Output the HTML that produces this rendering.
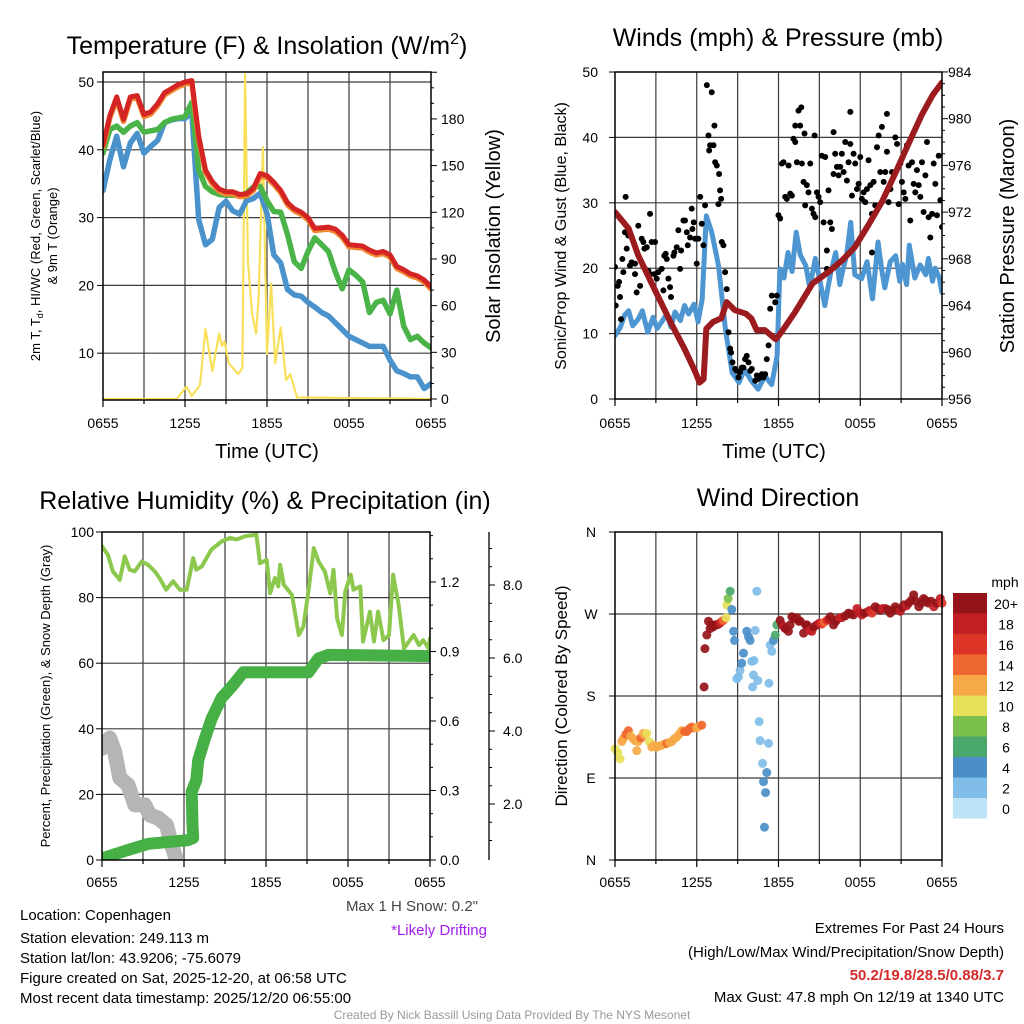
<!DOCTYPE html>
<html><head><meta charset="utf-8">
<style>
html,body{margin:0;padding:0;background:#fff;}
svg{display:block;font-family:"Liberation Sans",Arial,sans-serif;}
</style></head>
<body>
<svg id="fig" width="1024" height="1024" viewBox="0 0 1024 1024" xmlns="http://www.w3.org/2000/svg">
<defs>
<clipPath id="c1"><rect x="103" y="72" width="328" height="328"/></clipPath>
<clipPath id="c2"><rect x="615" y="72" width="327" height="327"/></clipPath>
<clipPath id="c3"><rect x="102" y="532" width="328" height="328"/></clipPath>
<clipPath id="c4"><rect x="608" y="525" width="340" height="342"/></clipPath>
</defs>
<g font-size="25" text-anchor="middle" fill="#000">
<text x="267" y="54">Temperature (F) &amp; Insolation (W/m<tspan font-size="16" dy="-10">2</tspan><tspan dy="10">)</tspan></text>
<text x="778" y="46">Winds (mph) &amp; Pressure (mb)</text>
<text x="265" y="509">Relative Humidity (%) &amp; Precipitation (in)</text>
<text x="778" y="506">Wind Direction</text>
</g>
<g font-size="20" text-anchor="middle">
<text x="267" y="458">Time (UTC)</text>
<text x="774" y="458">Time (UTC)</text>
<text transform="translate(500,236) rotate(-90)">Solar Insolation (Yellow)</text>
<text transform="translate(1014,236) rotate(-90)">Station Pressure (Maroon)</text>
</g>
<g font-size="13" text-anchor="middle">
<text transform="translate(40,236) rotate(-90)">2m T, T<tspan font-size="9" dy="3">d</tspan><tspan dy="-3">, HI/WC (Red, Green, Scarlet/Blue)</tspan></text>
<text transform="translate(57,236) rotate(-90)">&amp; 9m T (Orange)</text>
<text transform="translate(50,696) rotate(-90)">Percent, Precipitation (Green), &amp; Snow Depth (Gray)</text>
</g>
<text transform="translate(566,236) rotate(-90)" font-size="16" text-anchor="middle">Sonic/Prop Wind &amp; Gust (Blue, Black)</text>
<text transform="translate(567,696) rotate(-90)" font-size="17" text-anchor="middle">Direction (Colored By Speed)</text>
<g font-size="15" fill="#000">
<text x="20" y="920">Location: Copenhagen</text>
<text x="20" y="943">Station elevation: 249.113 m</text>
<text x="20" y="963">Station lat/lon: 43.9206; -75.6079</text>
<text x="20" y="983">Figure created on Sat, 2025-12-20, at 06:58 UTC</text>
<text x="20" y="1003">Most recent data timestamp: 2025/12/20 06:55:00</text>
<text x="478" y="911" text-anchor="end" fill="#444">Max 1 H Snow: 0.2"</text>
<text x="487" y="935" text-anchor="end" fill="#a020f0">*Likely Drifting</text>
<text x="1004" y="933" text-anchor="end">Extremes For Past 24 Hours</text>
<text x="1004" y="957" text-anchor="end">(High/Low/Max Wind/Precipitation/Snow Depth)</text>
<text x="1004" y="980" text-anchor="end" fill="#d42a2a" font-weight="bold">50.2/19.8/28.5/0.88/3.7</text>
<text x="1004" y="1002" text-anchor="end">Max Gust: 47.8 mph On 12/19 at 1340 UTC</text>
</g>
<text x="512" y="1019" font-size="12" fill="#999" text-anchor="middle">Created By Nick Bassill Using Data Provided By The NYS Mesonet</text>
<text x="1005" y="587" font-size="14" text-anchor="middle">mph</text>
</svg>
<script>
// ---- data ----
const halfHours = [0,0.5,1,1.5,2,2.5,3,3.5,4,4.5,5,5.5,6,6.5,7,7.5,8,8.5,9,9.5,10,10.5,11,11.5,12,12.5,13,13.5,14,14.5,15,15.5,16,16.5,17,17.5,18,18.5,19,19.5,20,20.5,21,21.5,22,22.5,23,23.5,24];
const tempRed = [40.7,45,47.8,44.5,47.8,48,45.2,45.6,46.8,48.4,49,49.6,50,50.2,42,37,35.3,34.2,33.8,33.8,33.4,33.5,34.3,36.5,36.2,35.2,34,32.2,31.3,30.8,30,28.4,28.5,28.6,28.3,27.4,26,25.9,25.8,25.2,24.8,25,24.5,22.8,22.3,21.7,21.4,20.8,19.8];
const tempGreen = [39.5,43,43.5,42.6,43.5,44,42.6,42.8,43,44,44.5,44.7,44.9,47,37,34.6,33.8,33.4,33.3,33.3,33.2,33.6,34.5,34.6,32.5,30.9,30.8,27.5,23.5,22.5,25,27,26,25,22,19.5,22.3,21.5,20.5,16,17.5,17.8,15.8,19.3,14,12,12.5,11.5,10.8];
const tempBlue = [34,38.5,42,37.5,41,42.4,39.5,40.5,41.4,44,44.4,44.6,44.6,45.6,29.7,26,26.8,31.5,32.4,31,30.5,32.5,32.8,33.6,30.6,24.5,23.3,19.4,18.6,18.4,17.5,16.8,16,15.5,14.5,13.5,12.5,12,11.5,11,11,11,9,7.4,7,6.5,6.5,4.8,5.5];
const solarTimes = [0,5.4,6.1,6.5,7.1,7.5,8,8.5,8.7,8.9,9.2,9.9,10.2,10.4,10.6,10.9,11.2,11.4,11.7,12,12.3,12.6,13,13.4,13.7,14.2,24];
const solarVals = [0,0,8,2,9,45,18,42,34,37,23,16,20,209,89,55,42,68,162,29,74,23,46,12,16,1,0];
const tempTicks = [10,20,30,40,50];
const solarTicks = [0,30,60,90,120,150,180];
const timeLabels = ["0655","1255","1855","0055","0655"];

const windTimes = [0,0.4,0.7,1,1.3,1.7,2,2.4,2.8,3.1,3.4,3.8,4.1,4.4,4.8,5.1,5.4,5.8,6.1,6.4,6.7,7.1,7.6,8.1,8.6,9.1,9.5,10,10.5,11,11.5,11.9,12.1,12.4,12.7,13,13.3,13.6,14,14.3,14.7,15,15.4,15.8,16.2,16.5,16.7,17,17.3,17.6,18.1,18.5,18.9,19.3,19.6,19.8,20.2,20.6,20.9,21.1,21.4,21.6,22,22.4,22.8,23,23.3,23.5,23.8,24];
const windVals = [9.7,11,12.8,13.5,11.2,12.2,13.5,10.2,12.5,10.8,11.7,13,11,13.3,12,14.3,13,14.5,11.8,15.3,28,25.5,20.4,10.7,4,2.5,4.5,2.8,1.5,3.5,2.2,6.6,19.9,18.5,22.4,19.5,25.5,22,20.4,17,21.5,18.5,14.3,19,22.4,17.5,19.5,22,27,19,18.4,21,15.3,24,19.5,17,21,21.9,18,20.6,17.5,23.5,18.5,20.5,19,21.5,18,20,18.5,16.3];
const pressTimes = [0,1,1.7,2.9,4.2,5.1,5.9,6.2,6.5,6.7,7.2,7.8,8.2,8.8,9.6,10,10.4,11,11.8,12.2,13.2,14.5,15.7,16.7,17.6,18.6,19.6,20.6,21.6,22.5,23.3,24];
const pressVals = [972,970.6,968.3,965.4,962.3,960.3,958.3,957.4,957.7,962,962.6,962.9,964.3,963.6,963.3,962.9,961.9,961.9,961.1,961.7,963.4,965.9,966.9,967.9,969,970.9,972.9,975.4,978,980.3,982,983.1];
const gustTimes = [0,0.05,0.2,0.3,0.37,0.44,0.54,0.61,0.78,0.86,0.73,0.98,1.1,1.22,1.47,1.47,1.59,1.71,1.84,1.96,2.08,2.16,2.2,2.33,2.45,2.57,2.57,2.69,2.89,2.94,3.06,3.18,3.43,3.55,3.62,3.72,3.8,3.92,4.04,4.11,4.29,4.36,4.53,4.65,4.78,4.85,5.02,5.14,5.27,5.34,5.51,5.63,5.68,5.78,5.88,6,6.12,6.25,6.37,6.49,6.61,6.74,6.86,6.91,6.98,7.1,7.23,7.3,7.35,7.47,7.59,7.64,7.71,7.79,7.84,7.96,8.08,8.2,8.33,8.45,8.52,8.62,8.82,8.94,9.06,9.18,9.31,9.43,9.55,9.67,9.8,9.92,10.04,10.29,10.41,10.53,10.65,10.78,10.9,11.02,11.14,11.27,11.39,11.51,11.76,11.88,12,12.12,12.25,12.37,12.49,12.61,12.74,12.86,12.98,13.1,13.23,13.23,13.35,13.47,13.59,13.67,13.72,13.84,13.91,13.96,14.08,14.2,14.33,14.45,14.57,14.7,14.65,14.82,14.94,15.06,15.18,15.31,15.43,15.55,15.67,15.8,15.92,16.04,16.04,16.16,16.29,16.41,16.53,16.65,16.78,16.9,17.02,17.14,17.27,17.27,17.39,17.51,17.63,17.76,17.88,18,18.12,18.25,18.37,18.49,18.61,18.74,18.86,18.98,19.1,19.23,19.35,19.47,19.59,19.72,19.84,19.96,19.96,20.08,20.21,20.33,20.57,20.7,20.82,20.94,21.06,21.19,21.31,21.43,21.55,21.67,21.8,21.92,22.04,22.16,22.29,22.41,22.53,22.65,22.78,22.9,23.02,23.14,23.27,23.39,23.51,23.63,23.76,23.88,24,18.86,15.55];
const gustVals = [20.2,14.3,17.3,17.9,15.6,12.2,21.4,19.4,30.9,23,25.5,25,20.4,20.9,20.7,19.1,16.3,26.5,17.3,24.5,24,23,19.9,23.2,19.6,28.3,19.1,24,19.1,24,18.4,19.4,19.9,16.6,21.9,22.2,21.4,18.4,17.1,15.6,21.9,22.4,23.2,25.8,19.9,22.7,27.3,27.3,25.5,23.5,24.7,29.1,26,27,24.5,20.7,24.5,30.9,26.8,23.5,29.6,48,40.3,38,38.8,46.9,38.8,41.8,36.2,35.7,29.8,34.4,31.9,30.6,24,23.5,19.4,16.8,10.2,7.7,7.1,5.6,4.6,4.3,3.3,4.1,4.8,4.8,6.1,6.6,5.6,4.3,4.6,2.8,3.6,3.1,3.3,3.8,3.3,3.8,6.1,8.2,13.8,15.8,14.8,15.8,28.1,27.6,36,36.2,30.9,30.6,35.7,31.4,31.1,39.8,39.3,41.8,36.2,44.1,41.8,44.6,36,33.2,40.6,29.6,32.7,31.6,36,29.1,28.3,27.8,40.3,31.6,30.9,30.1,37.2,27,37,22.7,31.9,27,26,40.8,34.4,37.5,35.5,34.2,35.5,37.5,34.7,39.3,33.4,36.2,43.9,39,31.1,37.5,36,32.1,32.9,37,30.6,31.6,30.1,32.1,36.5,32.7,28.3,33.2,29.6,38.5,40.3,34.7,41.6,33.2,34.7,43.6,37.8,30.1,32.1,34.7,40,39,29.8,36,33.2,31.6,30.6,38.8,35.7,27.3,36.2,32.9,31.6,35,32.7,30.9,36.2,28.6,34.2,39.3,27.8,24.7,28.3,36,32.9,28.1,37.2,30.4,26.3,22.4,19.9];
const windTicks = [0,10,20,30,40,50];
const pressTicks = [956,960,964,968,972,976,980,984];

const rhTimes = [0,0.44,0.8,1.3,1.66,2.03,2.4,2.9,3.37,3.86,4.2,4.7,5.2,5.7,6.2,6.67,6.9,7.3,8,8.75,9.36,9.85,10.46,11.3,11.56,12.05,12.3,12.66,12.9,13.03,13.3,13.9,14.4,14.74,15.1,15.5,15.85,16.3,16.7,16.94,17.2,17.55,17.8,18.2,18.4,18.9,19.1,19.6,19.9,20.2,20.6,21,21.3,21.7,22.1,22.8,23.2,23.5,23.9,24];
const rhVals = [95.6,93,88,85.4,92.6,88.5,88,91,90,88,86,82.4,85,82.4,82.4,92,88.5,89.5,94.6,97.1,98.2,97.7,98.7,99.2,90.5,91.5,81.3,86,83.4,90,83.9,80.8,68.6,71.2,81.9,95.1,91,88,81.3,88.5,73.7,68.6,81.9,87,82.4,83.4,66.6,75.7,66.6,75.7,67,68.6,87,77.8,64.5,68.6,65.5,67,64.5,67.6];
const precipTimes = [0,1.9,3.4,6.3,6.67,6.62,6.56,6.9,7.04,7.53,8.02,8.75,9.49,10.34,15.1,15.84,16.57,24];
const precipVals = [0.007,0.043,0.07,0.086,0.095,0.15,0.295,0.345,0.43,0.525,0.61,0.7,0.748,0.81,0.81,0.87,0.885,0.88];
const snowTimes = [0,0.56,0.93,1.3,1.9,2.4,3.13,3.5,4.1,4.72,5.09,5.45];
const snowVals = [34.1,37.2,33,25,22.9,16.8,16.8,13.7,12.8,10.7,4.6,0];
const pctTicks = [0,20,40,60,80,100];
const precipTicks = ["0.0","0.3","0.6","0.9","1.2"];
const snowTicks = ["2.0","4.0","6.0","8.0"];

const dirTimes = [0,0.2,0.37,0.5,0.6,0.8,0.98,1.15,1.35,1.47,1.6,1.7,1.9,2.08,2.2,2.33,2.5,2.7,2.9,3.06,3.25,3.43,3.6,3.8,4,4.16,4.35,4.53,4.7,4.9,5.1,5.27,5.45,5.63,5.8,6,6.2,6.37,6.54,6.6,6.74,6.86,6.98,7.1,7.2,7.35,7.47,7.6,7.7,7.85,7.96,8.16,8.2,8.3,8.45,8.57,8.7,8.77,8.94,9.06,9.18,9.3,9.43,9.67,9.8,9.92,10.04,10.1,10.16,10.2,10.29,10.41,10.48,10.58,10.65,10.83,10.9,10.97,11.05,11.14,11.27,11.3,11.39,11.51,11.63,11.76,11.88,12.12,12.25,12.4,12.5,12.73,12.85,12.98,13.15,13.35,13.5,13.6,13.84,14,14.08,14.3,14.45,14.6,14.82,15,15.18,15.35,15.55,15.7,15.8,16.04,16.2,16.29,16.5,16.65,16.9,17.14,17.3,17.5,17.76,17.9,18.12,18.3,18.5,18.7,18.86,19.1,19.3,19.47,19.65,19.84,20,20.2,20.4,20.57,20.75,20.94,21.1,21.19,21.4,21.55,21.75,21.92,22.1,22.3,22.5,22.65,22.8,23,23.2,23.4,23.63,23.88,24];
const dirVals = [122,118,111,130,133,138,142,136,133,131,120,130,134,139,137,139,130,124,126,124,125,126,127,128,129,130,133,135,138,142,141,141,144,146,145,145,147,148,190,232,247,262,254,258,256,258,258,259,260,262,263,266,280,287,295,275,251,241,199,201,208,216,227,251,245,241,218,190,203,219,252,295,197,152,131,106,86,36,74,96,128,194,236,229,241,247,258,263,258,256,254,251,258,267,265,266,262,262,249,258,258,252,251,256,258,260,259,261,263,264,267,258,262,264,266,266,268,271,270,269,276,272,269,271,272,274,271,278,276,274,276,276,275,271,274,278,275,273,277,280,279,282,285,291,284,278,282,287,285,282,284,278,282,287,282];
const speedBins = ["0","2","4","6","8","10","12","14","16","18","20+"];
const dirTicks = ["N","E","S","W","N"];

// ---- helpers ----
const NS = "http://www.w3.org/2000/svg";
const svg = document.getElementById("fig");
function mk(tag, attrs, parent) {
  const e = document.createElementNS(NS, tag);
  for (const k in attrs) e.setAttribute(k, attrs[k]);
  (parent || svg).appendChild(e);
  return e;
}
function interp(ts, vs, t) {
  if (t <= ts[0]) return vs[0];
  for (let i = 1; i < ts.length; i++) {
    if (t <= ts[i]) { const f = (t - ts[i-1]) / (ts[i] - ts[i-1] || 1); return vs[i-1] + f * (vs[i] - vs[i-1]); }
  }
  return vs[vs.length - 1];
}
function pathD(ts, vs, fx, fy) {
  return ts.map((t, i) => (i ? "L" : "M") + fx(t).toFixed(1) + "," + fy(vs[i]).toFixed(1)).join("");
}
function label(x, y, txt, anchor, size) {
  const e = mk("text", {x: x, y: y, "text-anchor": anchor, "font-size": size || 14});
  e.textContent = txt;
  return e;
}

// ---- scales ----
const x1 = t => 103 + t / 24 * 328;
const yT = v => 421 - v * 6.78;
const yS = s => 399 - s * 1.556;
const x2 = t => 615 + t / 24 * 327;
const yW = v => 399 - v * 6.54;
const yP = p => 399 - (p - 956) * 11.68;
const x3 = t => 102 + t / 24 * 328;
const yPct = v => 860 - v * 3.28;
const yPr = p => 860 - p * 231.7;
const ySnowAx = s => 877 - s * 36.5;
const x4 = t => 615 + t / 24 * 327;
const yD = d => 860 - d / 360 * 328;

function grid(g, xl, xr, yt, yb, xs, ys) {
  for (let h = 3; h < 24; h += 3) mk("line", {x1: xs(h), x2: xs(h), y1: yt, y2: yb, stroke: "#3a3a3a", "stroke-width": 1.2}, g);
  ys.forEach(y => mk("line", {x1: xl, x2: xr, y1: y, y2: y, stroke: "#3a3a3a", "stroke-width": 1.2}, g));
}
function frame(g, xl, xr, yt, yb) {
  mk("rect", {x: xl, y: yt, width: xr - xl, height: yb - yt, fill: "none", stroke: "#000", "stroke-width": 1.5}, g);
}
function timeAxis(g, xs, yb, ly) {
  for (let h = 0; h <= 24; h += 3) mk("line", {x1: xs(h), x2: xs(h), y1: yb, y2: yb + (h % 6 ? 4 : 7), stroke: "#000", "stroke-width": 1.2}, g);
  timeLabels.forEach((s, i) => {
    const e = label(xs(i * 6), ly, s, "middle", 14);
    
    
  });
}

// ===== Panel 1 =====
const g1 = mk("g", {});


grid(g1, 103, 431, 72, 400, x1, tempTicks.map(yT));
const l1 = mk("g", {"clip-path": "url(#c1)", fill: "none", "stroke-linejoin": "round", "stroke-linecap": "round"}, g1);
const sol = mk("path", {d: pathD(solarTimes, solarVals, x1, yS), stroke: "#f9e05a", "stroke-width": 2.2}, l1);


const tb = mk("path", {d: pathD(halfHours, tempBlue, x1, yT), stroke: "#4a92cc", "stroke-width": 5.5}, l1);


const tg = mk("path", {d: pathD(halfHours, tempGreen, x1, yT), stroke: "#4bb449", "stroke-width": 5.5}, l1);


const to = mk("path", {d: pathD(halfHours, tempRed.map(v => v - 0.3), x1, yT), stroke: "#f08a32", "stroke-width": 5.5}, l1);


const tr = mk("path", {d: pathD(halfHours, tempRed, x1, yT), stroke: "#d42424", "stroke-width": 5}, l1);


frame(g1, 103, 431, 72, 400);
timeAxis(g1, x1, 400, 428);
tempTicks.forEach(v => {
  mk("line", {x1: 97, x2: 103, y1: yT(v), y2: yT(v), stroke: "#000"}, g1);
  const e = label(94, yT(v) + 5, String(v), "end", 14);
  
  
});
for (let s = 0; s <= 210; s += 10) mk("line", {x1: 431, x2: 431 + (s % 30 ? 3 : 6), y1: yS(s), y2: yS(s), stroke: "#000"}, g1);
solarTicks.forEach(s => {
  const e = label(441, yS(s) + 5, String(s), "start", 14);
  
  
});

// ===== Panel 2 =====
const g2 = mk("g", {});


grid(g2, 615, 942, 72, 399, x2, [10, 20, 30, 40].map(yW));
const l2 = mk("g", {"clip-path": "url(#c2)", fill: "none", "stroke-linejoin": "round", "stroke-linecap": "round"}, g2);
const wl = mk("path", {d: pathD(windTimes, windVals, x2, yW), stroke: "#4d96d2", "stroke-width": 5}, l2);


gustTimes.forEach((t, i) => {
  const c = mk("circle", {cx: x2(t), cy: yW(gustVals[i]), r: 3, fill: "#000"}, l2);
  
  
});
const pl = mk("path", {d: pathD(pressTimes, pressVals, x2, yP), stroke: "#9b1b1e", "stroke-width": 6}, l2);


frame(g2, 615, 942, 72, 399);
timeAxis(g2, x2, 399, 428);
windTicks.forEach(v => {
  mk("line", {x1: 609, x2: 615, y1: yW(v), y2: yW(v), stroke: "#000"}, g2);
  const e = label(598, yW(v) + 5, String(v), "end", 14);
  
  
});
for (let p = 956; p <= 984; p += 1) mk("line", {x1: 942, x2: 942 + (p % 4 ? 3 : 6), y1: yP(p), y2: yP(p), stroke: "#000"}, g2);
pressTicks.forEach(p => {
  const e = label(948, yP(p) + 5, String(p), "start", 14);
  
  
});

// ===== Panel 3 =====
const g3 = mk("g", {});


grid(g3, 102, 430, 532, 860, x3, [20, 40, 60, 80].map(yPct));
const l3 = mk("g", {"clip-path": "url(#c3)", fill: "none", "stroke-linejoin": "round", "stroke-linecap": "round"}, g3);
const sl = mk("path", {d: pathD(snowTimes, snowVals, x3, yPct), stroke: "#b5b5b5", "stroke-width": 15}, l3);


const rl = mk("path", {d: pathD(rhTimes, rhVals, x3, yPct), stroke: "#8cc84e", "stroke-width": 4}, l3);


const prl = mk("path", {d: pathD(precipTimes, precipVals, x3, yPr), stroke: "#46b047", "stroke-width": 12}, l3);


frame(g3, 102, 430, 532, 860);
timeAxis(g3, x3, 860, 887);
pctTicks.forEach(v => {
  mk("line", {x1: 96, x2: 102, y1: yPct(v), y2: yPct(v), stroke: "#000"}, g3);
  const e = label(94, yPct(v) + 5, String(v), "end", 14);
  
  
});
for (let k = 0; k <= 14; k++) { const p = k * 0.1; mk("line", {x1: 430, x2: 430 + (k % 3 ? 3 : 6), y1: yPr(p), y2: yPr(p), stroke: "#000"}, g3); }
precipTicks.forEach(s => {
  const e = label(440, yPr(parseFloat(s)) + 5, s, "start", 14);
  
  
});
mk("line", {x1: 489, x2: 489, y1: 532, y2: 860, stroke: "#000", "stroke-width": 1.3}, g3);
for (let s = 0.5; s <= 9; s += 0.5) { const y = ySnowAx(s); if (y >= 533 && y <= 858) mk("line", {x1: 489, x2: 489 + (s % 2 ? 3 : 6), y1: y, y2: y, stroke: "#000"}, g3); }
snowTicks.forEach(s => {
  const e = label(503, ySnowAx(parseFloat(s)) + 5, s, "start", 14);
  
  
});

// ===== Panel 4 =====
const colors = ["#bde3f7","#80bde8","#4a8fc8","#4aa86c","#7cc04c","#e6df5a","#f6a947","#ef6730","#dd3428","#c21f25","#951419"];
const g4 = mk("g", {});


grid(g4, 615, 942, 532, 860, x4, [90, 180, 270].map(yD));
const l4 = mk("g", {"clip-path": "url(#c4)"}, g4);
dirTimes.forEach((t, i) => {
  const sp = interp(windTimes, windVals, t);
  const bin = Math.max(0, Math.min(10, Math.round(sp / 2)));
  const c = mk("circle", {cx: x4(t), cy: yD(dirVals[i]), r: 4.5, fill: colors[bin], "fill-opacity": 0.92}, l4);
  
  
});
frame(g4, 615, 942, 532, 860);
timeAxis(g4, x4, 860, 887);
dirTicks.forEach((s, i) => {
  const y = yD(i * 90);
  mk("line", {x1: 609, x2: 615, y1: y, y2: y, stroke: "#000"}, g4);
  const e = label(591, y + 5, s, "middle", 14);
  
  
});
// colorbar
const cb = mk("g", {});


speedBins.forEach((s, i) => {
  const y = 798 - i * 20.5;
  const r = mk("rect", {x: 953, y: y, width: 34, height: 20.5, fill: colors[i]}, cb);
  
  
  const e = label(1006, y + 16, s, "middle", 14);
  
  
});
</script>
</body></html>
